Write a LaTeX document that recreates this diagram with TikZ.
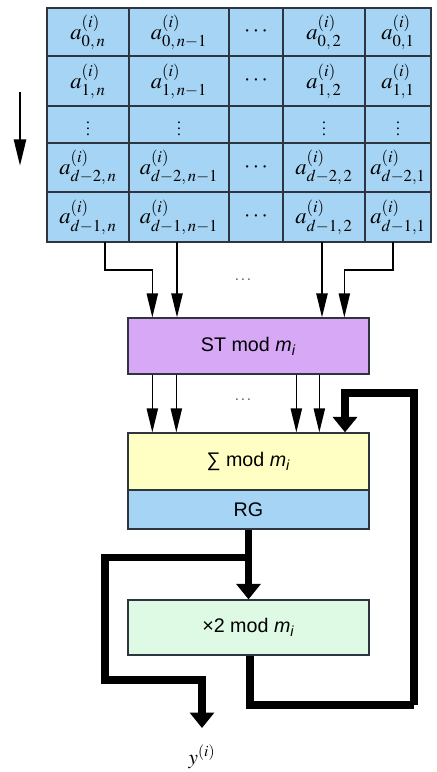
\documentclass[tikz,border=0pt]{standalone}
\usepackage{mathptmx}
\usepackage{fontspec}
\setmainfont{Liberation Serif}
\setsansfont{Liberation Sans}
\usepackage{xcolor}
\usepackage{tikz}
\definecolor{cellBlue}{HTML}{A6D4F4}
\definecolor{stPurple}{HTML}{D6A8F6}
\definecolor{sumYellow}{HTML}{FFFFC4}
\definecolor{dblGreen}{HTML}{DEF9E4}
\definecolor{gridLine}{HTML}{2E3440}
\usetikzlibrary{arrows.meta,positioning,calc}

\begin{document}
\begin{tikzpicture}[
  x=0.025cm, y=-0.025cm,
  cell/.style={draw=gridLine, line width=0.9pt, fill=cellBlue, inner sep=0pt, font=\fontsize{16}{18}\selectfont},
  dotcell/.style={cell, font=\fontsize{11}{12}\selectfont},
  box/.style={draw=gridLine, line width=0.9pt, minimum width=6.025cm, inner sep=0pt, font=\sffamily\fontsize{14}{16}\selectfont},
  thinarr/.style={line width=1pt, -{Triangle[length=17pt,width=8pt]}},
  thickarr/.style={line width=5pt, -{Triangle[length=11pt,width=17pt]}},
  thickline/.style={line width=5pt}
]
\useasboundingbox (0,0) rectangle (436,772);

% Table of digits
\node[cell, minimum width=2.05cm, minimum height=1.2cm] (c11) at (88,32) {$a^{(i)}_{0,\,n}$};
\node[cell, minimum width=2.5cm, minimum height=1.2cm] (c12) at (179,32) {$a^{(i)}_{0,\,n-1}$};
\node[cell, minimum width=1.35cm, minimum height=1.2cm] (c13) at (256,32) {$\cdots$};
\node[cell, minimum width=2.05cm, minimum height=1.2cm] (c14) at (324,32) {$a^{(i)}_{0,\,2}$};
\node[cell, minimum width=1.65cm, minimum height=1.2cm] (c15) at (398,32) {$a^{(i)}_{0,1}$};

\node[cell, minimum width=2.05cm, minimum height=1.25cm] (c21) at (88,81) {$a^{(i)}_{1,\,n}$};
\node[cell, minimum width=2.5cm, minimum height=1.25cm] (c22) at (179,81) {$a^{(i)}_{1,\,n-1}$};
\node[cell, minimum width=1.35cm, minimum height=1.25cm] (c23) at (256,81) {$\cdots$};
\node[cell, minimum width=2.05cm, minimum height=1.25cm] (c24) at (324,81) {$a^{(i)}_{1,\,2}$};
\node[cell, minimum width=1.65cm, minimum height=1.25cm] (c25) at (398,81) {$a^{(i)}_{1,1}$};

\node[dotcell, minimum width=2.05cm, minimum height=0.925cm] (c31) at (88,124.5) {$\vdots$};
\node[dotcell, minimum width=2.5cm, minimum height=0.925cm] (c32) at (179,124.5) {$\vdots$};
\node[dotcell, minimum width=1.35cm, minimum height=0.925cm] (c33) at (256,124.5) {};
\node[dotcell, minimum width=2.05cm, minimum height=0.925cm] (c34) at (324,124.5) {$\vdots$};
\node[dotcell, minimum width=1.65cm, minimum height=0.925cm] (c35) at (398,124.5) {$\vdots$};

\node[cell, minimum width=2.05cm, minimum height=1.225cm] (c41) at (88,167.5) {$a^{(i)}_{d-2,\,n}$};
\node[cell, minimum width=2.5cm, minimum height=1.225cm] (c42) at (179,167.5) {$a^{(i)}_{d-2,\,n-1}$};
\node[cell, minimum width=1.35cm, minimum height=1.225cm] (c43) at (256,167.5) {$\cdots$};
\node[cell, minimum width=2.05cm, minimum height=1.225cm] (c44) at (324,167.5) {$a^{(i)}_{d-2,\,2}$};
\node[cell, minimum width=1.65cm, minimum height=1.225cm] (c45) at (398,167.5) {$a^{(i)}_{d-2,1}$};

\node[cell, minimum width=2.05cm, minimum height=1.25cm] (c51) at (88,217) {$a^{(i)}_{d-1,\,n}$};
\node[cell, minimum width=2.5cm, minimum height=1.25cm] (c52) at (179,217) {$a^{(i)}_{d-1,\,n-1}$};
\node[cell, minimum width=1.35cm, minimum height=1.25cm] (c53) at (256,217) {$\cdots$};
\node[cell, minimum width=2.05cm, minimum height=1.25cm] (c54) at (324,217) {$a^{(i)}_{d-1,\,2}$};
\node[cell, minimum width=1.65cm, minimum height=1.25cm] (c55) at (398,217) {$a^{(i)}_{d-1,1}$};

% Direction arrow
\coordinate (dirTop) at (20,92);
\coordinate (dirBot) at (20,166);
\draw[line width=2pt, -{Triangle[length=19pt,width=8.5pt]}] (dirTop) -- (dirBot);

% Blocks
\node[box, fill=stPurple, minimum height=1.4cm] (st) at (248.5,346) {ST mod \textit{m}\textsubscript{\textit{i}}};
\node[box, fill=sumYellow, minimum height=1.425cm] (sum) at (248.5,461.5) {∑ mod \textit{m}\textsubscript{\textit{i}}};
\node[box, fill=cellBlue, minimum height=0.975cm] (rg) at (248.5,509.5) {RG};
\node[box, fill=dblGreen, minimum height=1.375cm] (dbl) at (248.5,627.5) {×2 mod \textit{m}\textsubscript{\textit{i}}};
\node[font=\fontsize{15}{17}\selectfont] (y) at (202,757) {$y^{(i)}$};

% Dots between wires
\node[font=\fontsize{11}{12}\selectfont, text=gridLine] (dotsA) at (243,280) {$\cdots$};
\node[font=\fontsize{11}{12}\selectfont, text=gridLine] (dotsB) at (243,400) {$\cdots$};

% Table to ST
\coordinate (in1) at (105,242);
\coordinate (in2) at (177,242);
\coordinate (in3) at (322,242);
\coordinate (in4) at (393,242);
\draw[thinarr] (in1) -- ++(0,28) -| ($(st.north west)+(25,0)$);
\draw[thinarr] (in2) -- (in2 |- st.north);
\draw[thinarr] (in3) -- (in3 |- st.north);
\draw[thinarr] (in4) -- ++(0,28) -| ($(st.north west)+(217,0)$);

% ST to sum
\foreach \dx in {25,49,169,192}
  \draw[thinarr] ($(st.south west)+(\dx,0)$) -- ($(sum.north west)+(\dx,0)$);

% RG to doubling, and output
\coordinate (br) at ($(rg.south)+(0,28)$);
\coordinate (outL) at (105,680);
\coordinate (yout) at (202,728);
\draw[thickarr] (rg.south) -- (dbl.north);
\draw[thickarr] (br) -| (outL) -| (yout);

% Feedback loop
\coordinate (fbR) at (414,705);
\coordinate (fbT) at (345,393);
\draw[thickline] ($(dbl.south)+(1.5,0)$) |- (fbR);
\draw[thickarr] (fbR) |- (fbT) -- (fbT |- sum.north);

\end{tikzpicture}
\end{document}
